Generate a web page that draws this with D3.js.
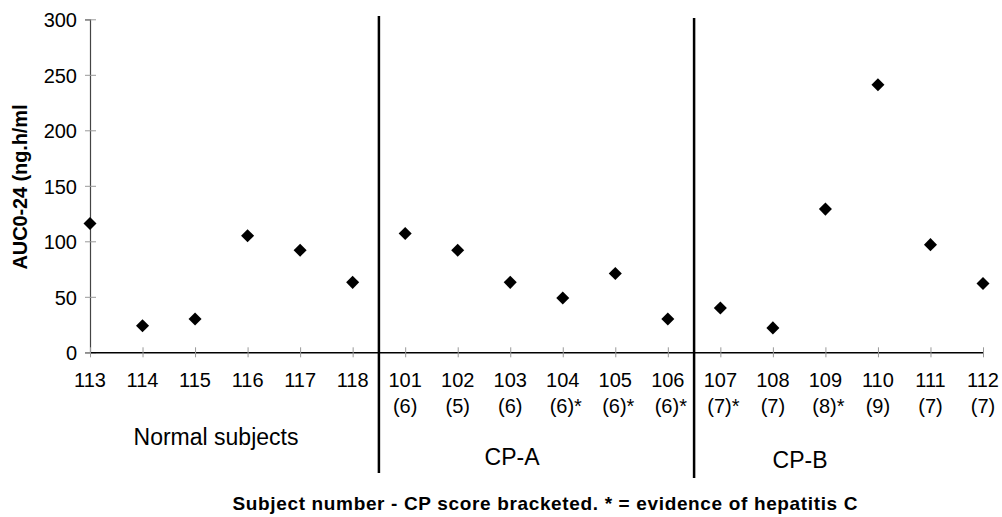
<!DOCTYPE html>
<html><head><meta charset="utf-8">
<script src="https://cdn.jsdelivr.net/npm/d3@7"></script>
<style>
body{margin:0;background:#fff;}
svg{display:block;font-family:"Liberation Sans",Arial,sans-serif;}
</style></head>
<body><svg id="c" width="1002" height="517"></svg>
<script>
const subjects = ["113","114","115","116","117","118","101","102","103","104","105","106","107","108","109","110","111","112"];
const cpScores = ["","","","","","","(6)","(5)","(6)","(6)*","(6)*","(6)*","(7)*","(7)","(8)*","(9)","(7)","(7)"];
const auc = [116,24,30,105,92,63,107,92,63,49,71,30,40,22,129,241,97,62];
const yTicks = [0,50,100,150,200,250,300];
const groups = ["Normal subjects","CP-A","CP-B"];
const groupStart = [0,6,12];
const yTitle = "AUC0-24 (ng.h/ml";
const xTitle = "Subject number - CP score bracketed. * = evidence of hepatitis C";

const FF = "'Liberation Sans',Arial,sans-serif";
const svg = d3.select("#c");
const x = d3.scalePoint().domain(subjects).range([90,983]);
const y = d3.scaleLinear().domain([0,300]).range([352.3,19.3]);

// y axis
const ya = svg.append("g").attr("transform","translate(90,0)")
  .call(d3.axisLeft(y).tickValues(yTicks).tickSize(5).tickPadding(8));
ya.attr("font-family",FF);
ya.select(".domain").attr("stroke","#444").attr("stroke-width",1.2);
ya.selectAll(".tick line").attr("stroke","#999").attr("x2",-5).attr("x1",6);
ya.selectAll(".tick text").attr("font-size",20).attr("fill","#000").attr("x",-13).attr("dy","0.36em");

// x axis
const xa = svg.append("g").attr("transform",`translate(0,${y(0)})`)
  .call(d3.axisBottom(x).tickSize(5).tickSizeOuter(0).tickFormat(()=>""));
xa.select(".domain").attr("stroke","#000").attr("stroke-width",1.5);
xa.selectAll(".tick line").attr("stroke","#999").attr("y1",-5).attr("y2",5);

// x tick labels (two lines)
const lab = svg.append("g").attr("font-size",20).attr("text-anchor","middle").attr("font-family",FF);
lab.selectAll("text.n").data(subjects).join("text").attr("class","n")
  .attr("x",d=>x(d)).attr("y",387).text(d=>d);
lab.selectAll("text.s").data(subjects.map((s,i)=>({s,c:cpScores[i]})).filter(d=>d.c))
  .join("text").attr("class","s")
  .attr("x",d=>x(d.s)+ (d.c.endsWith("*")?3:0)).attr("y",413).text(d=>d.c);

// dividers
const divX = groupStart.slice(1).map(i => (x(subjects[i-1])+x(subjects[i]))/2);
const divBot = [473,478], divTop=[16,18];
svg.selectAll("line.div").data(divX).join("line").attr("class","div")
  .attr("x1",d=>d).attr("x2",d=>d).attr("y1",(d,i)=>divTop[i]).attr("y2",(d,i)=>divBot[i])
  .attr("stroke","#000").attr("stroke-width",2.5);

// group labels
const gx = [216,512,800], gy=[445,465,468];
svg.selectAll("text.g").data(groups).join("text").attr("class","g")
  .attr("x",(d,i)=>gx[i]).attr("y",(d,i)=>gy[i]).attr("text-anchor","middle")
  .attr("font-size",23).text(d=>d);

// points
svg.selectAll("path.pt").data(subjects).join("path").attr("class","pt")
  .attr("d", d3.symbol().type(d3.symbolSquare).size(85))
  .attr("transform",(d,i)=>`translate(${x(d)},${y(auc[i])}) rotate(45)`)
  .attr("fill","#000");

// axis titles
svg.append("text").attr("transform","translate(27,187) rotate(-90)")
  .attr("text-anchor","middle").attr("font-weight","bold").attr("font-size",20)
  .attr("textLength",165).attr("lengthAdjust","spacing").text(yTitle);
svg.append("text").attr("x",545).attr("y",510)
  .attr("text-anchor","middle").attr("font-weight","bold").attr("font-size",19)
  .attr("textLength",625).attr("lengthAdjust","spacing").text(xTitle);
</script></body></html>
